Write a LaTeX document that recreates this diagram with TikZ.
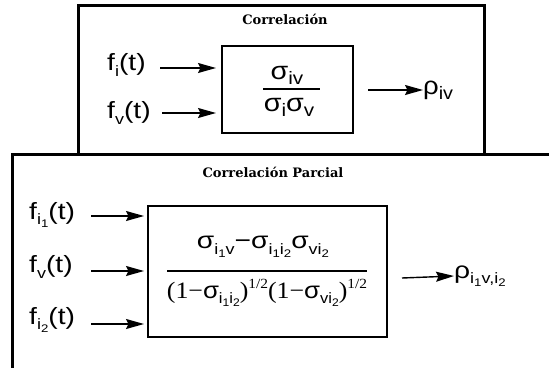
\documentclass[tikz,border=0pt]{standalone}
\usepackage{fontspec}
\setmainfont{Liberation Sans}
\newfontfamily\lserif{Liberation Serif}
\newfontfamily\ttlfont{DejaVu Serif}
\usetikzlibrary{arrows.meta}
\newcommand\SubA[1]{\raisebox{-5.5pt}{\fontsize{15}{15}\selectfont #1}}
\newcommand\SubB[1]{\raisebox{-3pt}{\fontsize{11}{11}\selectfont #1}}
\newcommand\SubC[1]{\raisebox{-5pt}{\fontsize{18}{18}\selectfont #1}}
\newcommand\SupA[1]{\raisebox{10pt}{\lserif\fontsize{14}{14}\selectfont #1}}
\newcommand\W[2][1.2]{\scalebox{#1}[1]{#2}}
\begin{document}
\begin{tikzpicture}[x=1pt,y=-1pt,
  frame/.style={line width=3pt},
  inbox/.style={draw,line width=1.3pt},
  lbl/.style={inner sep=0pt,font=\fontsize{23.5}{23.5}\selectfont},
  big/.style={inner sep=0pt,font=\fontsize{25}{25}\selectfont},
  ttl/.style={inner sep=0pt,font=\ttlfont\bfseries\fontsize{13}{13}\selectfont},
  arr/.style={line width=1.4pt,-{Stealth[length=18pt,width=10pt,inset=2.5pt]}},
  fracline/.style={line width=1.6pt}]
\useasboundingbox (0,0) rectangle (549,367);
% outer frames
\draw[frame] (78,5) rectangle (484,154);
\draw[frame] (549,154) -- (12,154) -- (12,370);
% top part
\node[ttl] (t1) at (285,19) {Correlación};
\node[inbox,minimum width=131pt,minimum height=87pt] (b1) at (287.5,89.5) {};
\node[lbl,anchor=west] (fi) at (107,65) {\W{f\SubA{i}(t)}};
\node[lbl,anchor=west] (fv) at (107,113) {\W{f\SubA{v}(t)}};
\coordinate (fiA) at (160,68);
\coordinate (fvA) at (162,113);
\coordinate (fiB) at (216,68);
\coordinate (fvB) at (216,113);
\draw[arr] (fiA) -- (fiB);
\draw[arr] (fvA) -- (fvB);
\node[big] (n1) at (287,75) {\W[1.15]{σ\SubC{iv}}};
\node[big] (d1) at (289,107) {\W[1.15]{σ\SubC{i}σ\SubC{v}}};
\draw[fracline] (263,89) coordinate (l1a) -- (320,89) coordinate (l1b);
\coordinate (oA) at (368,90);
\node[big,anchor=west] (rho1) at (423,90) {\W[1.1]{ρ\SubC{iv}}};
\draw[arr] (oA) -- (rho1.west);
% lower part
\node[ttl] (t2) at (273,172) {Correlación Parcial};
\node[inbox,minimum width=239pt,minimum height=131pt] (b2) at (267.5,271.5) {};
\node[lbl,anchor=west] (g1) at (29,215) {\W{f\SubA{i\SubB{1}}(t)}};
\node[lbl,anchor=west] (g2) at (29,267) {\W{f\SubA{v}(t)}};
\node[lbl,anchor=west] (g3) at (29,320) {\W{f\SubA{i\SubB{2}}(t)}};
\coordinate (g1A) at (91,216); \coordinate (g1B) at (144,216);
\coordinate (g2A) at (91,271); \coordinate (g2B) at (144,271);
\coordinate (g3A) at (91,324); \coordinate (g3B) at (144,324);
\draw[arr] (g1A) -- (g1B);
\draw[arr] (g2A) -- (g2B);
\draw[arr] (g3A) -- (g3B);
\node[lbl] (n2) at (263,247) {\W{σ\SubA{i\SubB{1}v}−σ\SubA{i\SubB{1}i\SubB{2}}σ\SubA{vi\SubB{2}}}};
\draw[fracline] (167,271) -- (367,271);
\node[lbl] (d2) at (267,293) {\W[1.1]{{\lserif(1−}σ\SubA{i\SubB{1}i\SubB{2}}{\lserif)}\SupA{1/2}{\lserif(1−}σ\SubA{vi\SubB{2}}{\lserif)}\SupA{1/2}}};
\coordinate (o2A) at (402,278);
\node[lbl,anchor=west] (rho2) at (454,276) {\W{ρ\SubA{i\SubB{1}v,i\SubB{2}}}};
\draw[arr] (o2A) -- (rho2.west);
\end{tikzpicture}
\end{document}
